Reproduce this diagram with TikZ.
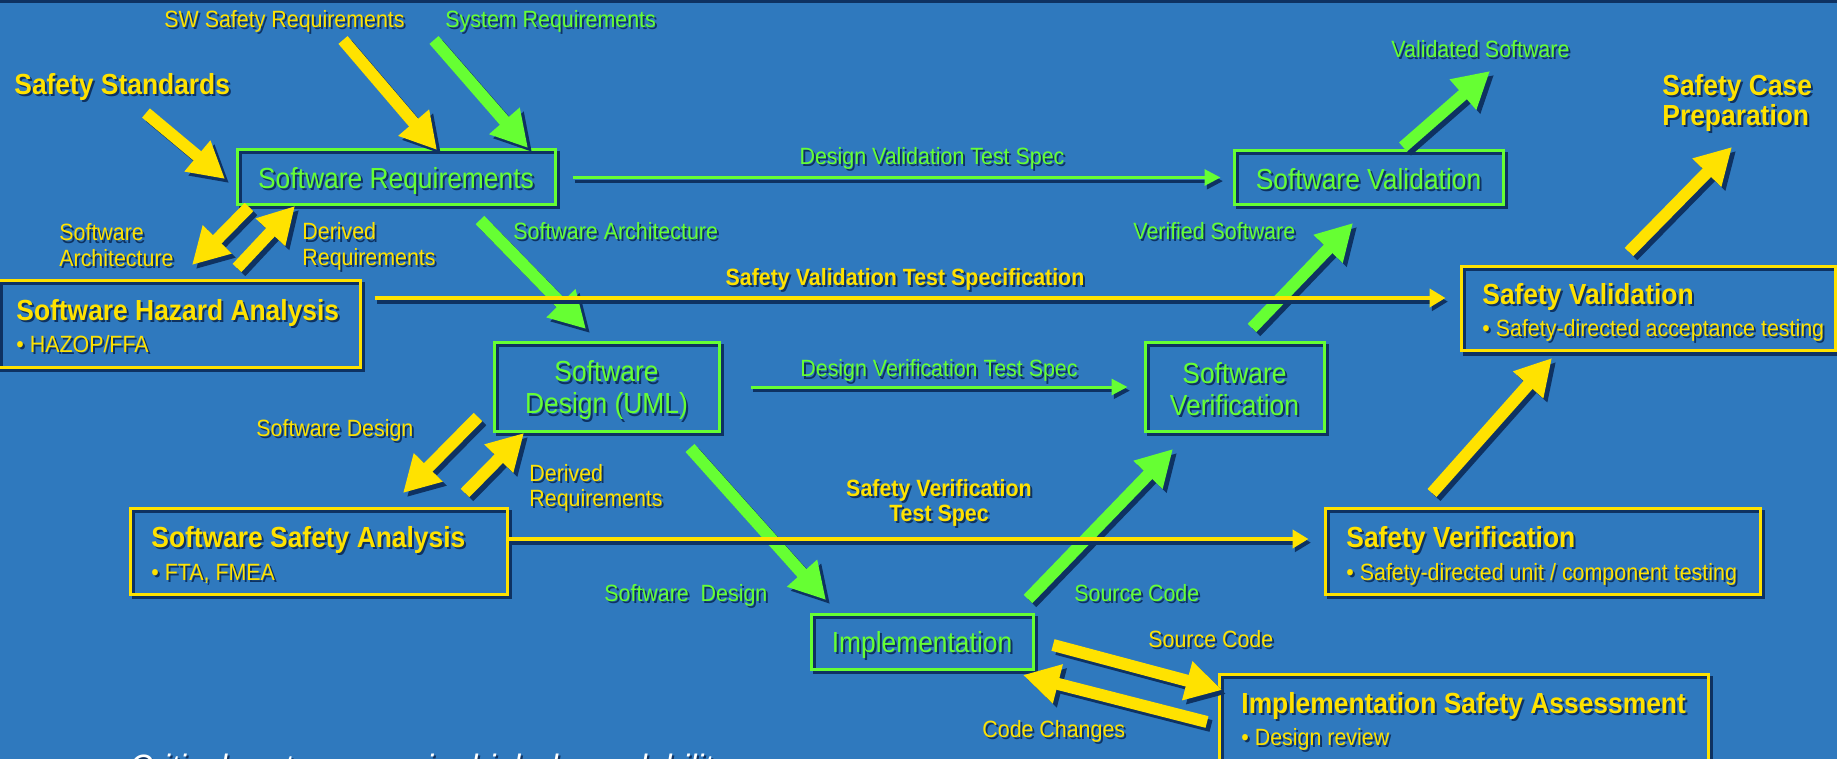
\documentclass[tikz,border=0pt]{standalone}
\usepackage{fontspec}
\usepackage{graphicx}
\setmainfont{Liberation Sans}
\usetikzlibrary{arrows.meta}

\definecolor{bg}{RGB}{47,121,190}
\definecolor{yel}{RGB}{255,226,0}
\definecolor{grn}{RGB}{102,255,51}
\definecolor{shad}{RGB}{14,50,98}

% slightly tall lettering with a dark drop shadow
\newcommand\shd[1]{\scalebox{1}[1.1]{\rlap{\kern1pt\raisebox{-1pt}{\textcolor{shad}{#1}}}#1}}
\newcommand\fsmall{\fontsize{10.7pt}{12.7pt}\selectfont}
\newcommand\fbig{\fontsize{13.2pt}{16pt}\selectfont}

% wide block arrow with its shadow
\newcommand\fatarrow[3]{%
  \begin{scope}[transform canvas={shift={(2pt,-2pt)}}]\draw[fat,shad] (#2) -- (#3);\end{scope}
  \draw[fat,#1] (#2) -- (#3);}
% thin arrow with its shadow
\newcommand\thinarrow[3]{%
  \begin{scope}[transform canvas={shift={(1.2pt,-1.8pt)}}]\draw[#1,shad] #2 -- #3;\end{scope}
  \draw[#1] #2 -- #3;}

\tikzset{
  fat/.style={line width=6pt, -{Triangle[length=18pt,width=19pt]}},
  gthin/.style={line width=1.5pt, grn, -{Triangle[length=8pt,width=8pt]}},
  ythin/.style={line width=2.2pt, yel, -{Triangle[length=8pt,width=9pt]}},
  one/.style={text height=9.4pt, text depth=0pt},
  onebig/.style={text height=11.2pt, text depth=0pt},
  lab/.style={inner sep=0pt, font=\fsmall, anchor=west},
  ylab/.style={lab, text=yel},
  glab/.style={lab, text=grn},
  head/.style={inner sep=0pt, anchor=west, font=\fbig\bfseries, text=yel, onebig},
  bullet/.style={inner sep=0pt, anchor=west, font=\fsmall, text=yel, one},
  boxframe/.style={line width=1.5pt, inner sep=0pt,
    preaction={draw=shad, transform canvas={shift={(1.5pt,-1.5pt)}}}},
  gbox/.style={boxframe, draw=grn, text=grn, font=\fbig},
  gtext/.style={inner sep=0pt, text=grn, font=\fbig, align=center},
  ybox/.style={boxframe, draw=yel},
}

\begin{document}
\begin{tikzpicture}[x=0.5pt,y=-0.5pt]
\useasboundingbox (0,0) rectangle (1837,759);
\fill[bg] (0,0) rectangle (1837,759);
\clip (0,0) rectangle (1837,759);
\fill[shad] (0,0) rectangle (1837,3);

% ---- process boxes
\node[gbox, onebig, minimum width=159pt, minimum height=27.5pt] (sr) at (396,177.5) {\shd{Software Requirements}};
\node[gbox, onebig, minimum width=134.5pt, minimum height=27pt] (sval) at (1368.5,178) {\shd{Software Validation}};
\node[gbox, minimum width=112.5pt, minimum height=44pt] (uml) at (606.5,387) {};
\node[gtext, yshift=-2.3pt] (umlt) at (uml.center) {\shd{Software}\\\shd{Design (UML)}};
\node[gbox, minimum width=89.5pt, minimum height=44pt] (sver) at (1234.5,387) {};
\node[gtext, yshift=-1.4pt] (svert) at (sver.center) {\shd{Software}\\\shd{Verification}};
\node[gbox, onebig, minimum width=111pt, minimum height=27.5pt] (impl) at (922,641.5) {\shd{Implementation}};

% ---- safety boxes
\node[ybox, minimum width=181pt, minimum height=43pt] (haz) at (179,324) {};
\node[head] (hazt) at (16,309) {\shd{Software Hazard Analysis}};
\node[bullet] (hazb) at (16,343) {\shd{• HAZOP/FFA}};

\node[ybox, minimum width=188.5pt, minimum height=43pt] (ssa) at (318.5,551) {};
\node[head] (ssat) at (151,536) {\shd{Software Safety Analysis}};
\node[bullet] (ssab) at (151,571) {\shd{• FTA, FMEA}};

\node[ybox, minimum width=187pt, minimum height=42pt] (safval) at (1648,309) {};
\node[head] (safvalt) at (1482,293) {\shd{Safety Validation}};
\node[bullet] (safvalb) at (1482,327) {\shd{• Safety-directed acceptance testing}};

\node[ybox, minimum width=217.5pt, minimum height=43pt] (safver) at (1542.5,551) {};
\node[head] (safvert) at (1346,536) {\shd{Safety Verification}};
\node[bullet] (safverb) at (1346,571) {\shd{• Safety-directed unit / component testing}};

\node[ybox, minimum width=244.5pt, minimum height=58pt] (isa) at (1463.5,732) {};
\node[head] (isat) at (1241,702) {\shd{Implementation Safety Assessment}};
\node[bullet] (isab) at (1241,736) {\shd{• Design review}};

% ---- free labels
\node[ylab, one] (swsr) at (164,18) {\shd{SW Safety Requirements}};
\node[glab, one] (sysr) at (445,18) {\shd{System Requirements}};
\node[head] (stds) at (14,83) {\shd{Safety Standards}};
\node[inner sep=0pt, anchor=west, text=yel, align=left, yshift=-2.9pt,
      font=\fontsize{13.2pt}{15pt}\selectfont\bfseries] (scp) at (1662,98) {\shd{Safety Case}\\\shd{Preparation}};
\node[glab, one] (valsw) at (1391,48) {\shd{Validated Software}};
\node[glab, one, anchor=center] (dvts) at (932,155) {\shd{Design Validation Test Spec}};
\node[ylab, align=left, yshift=-1.9pt] (srarch) at (59,242.5) {\shd{Software}\\\shd{Architecture}};
\node[ylab, align=left, yshift=-2.6pt] (srder) at (302,242.5) {\shd{Derived}\\\shd{Requirements}};
\node[glab, one] (swarch) at (513,230) {\shd{Software Architecture}};
\node[glab, one] (versw) at (1133,230) {\shd{Verified Software}};
\node[ylab, one, anchor=center, font=\fsmall\bfseries] (svts) at (905,276) {\shd{Safety Validation Test Specification}};
\node[glab, one, anchor=center] (dverts) at (939,367.5) {\shd{Design Verification Test Spec}};
\node[ylab, one] (swdes) at (256,427) {\shd{Software Design}};
\node[ylab, align=left, yshift=-1.9pt] (umlder) at (529,485) {\shd{Derived}\\\shd{Requirements}};
\node[ylab, anchor=center, align=center, yshift=-1.9pt,
      font=\fontsize{10.7pt}{12.5pt}\selectfont\bfseries] (sverts) at (939,500) {\shd{Safety Verification}\\\shd{Test Spec}};
\node[glab, one] (swdes2) at (604,592) {\shd{Software\ \ Design}};
\node[glab, one] (src1) at (1074,592) {\shd{Source Code}};
\node[ylab, one] (src2) at (1148,638) {\shd{Source Code}};
\node[ylab, one] (codech) at (982,728) {\shd{Code Changes}};
\node[anchor=base west, inner sep=0pt, text=white, font=\fontsize{16pt}{19pt}\selectfont\itshape] (crit) at (129,779) {\shd{Critical systems require high dependability}};

% ---- block arrow end points
\coordinate (a1s) at (146,113);  \coordinate (a1e) at (225,179);
\coordinate (a2s) at (343,40);   \coordinate (a2e) at (437,150);
\coordinate (a3s) at (434,40);   \coordinate (a3e) at (528,148);
\coordinate (a4s) at (249,207);  \coordinate (a4e) at (192,265);
\coordinate (a5s) at (237,268);  \coordinate (a5e) at (295,206);
\coordinate (a6s) at (480,220);  \coordinate (a6e) at (586,329);
\coordinate (a7s) at (478,417);  \coordinate (a7e) at (403,493);
\coordinate (a8s) at (465,493);  \coordinate (a8e) at (524,433);
\coordinate (a9s) at (690,448);  \coordinate (a9e) at (826,600);
\coordinate (a10s) at (1028,599); \coordinate (a10e) at (1173,449);
\coordinate (a11s) at (1252,328); \coordinate (a11e) at (1353,223);
\coordinate (a12s) at (1403,147); \coordinate (a12e) at (1490,71);
\coordinate (a13s) at (1629,252); \coordinate (a13e) at (1732,147);
\coordinate (a14s) at (1432,493); \coordinate (a14e) at (1552,358);
\coordinate (a15s) at (1053,645); \coordinate (a15e) at (1222,690);
\coordinate (a16s) at (1207,722); \coordinate (a16e) at (1023,675);

\fatarrow{yel}{a1s}{a1e}
\fatarrow{yel}{a2s}{a2e}
\fatarrow{grn}{a3s}{a3e}
\fatarrow{yel}{a4s}{a4e}
\fatarrow{yel}{a5s}{a5e}
\fatarrow{grn}{a6s}{a6e}
\fatarrow{yel}{a7s}{a7e}
\fatarrow{yel}{a8s}{a8e}
\fatarrow{grn}{a9s}{a9e}
\fatarrow{grn}{a10s}{a10e}
\fatarrow{grn}{a11s}{a11e}
\fatarrow{grn}{a12s}{a12e}
\fatarrow{yel}{a13s}{a13e}
\fatarrow{yel}{a14s}{a14e}
\fatarrow{yel}{a15s}{a15e}
\fatarrow{yel}{a16s}{a16e}

% ---- test specification arrows
\thinarrow{gthin, shorten <=8pt, shorten >=6pt}{(sr.east)}{(sr.east -| sval.west)}
\thinarrow{gthin, shorten <=15pt, shorten >=8pt}{(uml.east)}{(uml.east -| sver.west)}
\thinarrow{ythin, shorten <=6.5pt, shorten >=7pt}{([yshift=13pt]haz.east)}{([yshift=13pt]haz.east -| safval.west)}
\thinarrow{ythin, shorten >=7.5pt}{([yshift=6pt]ssa.east)}{([yshift=6pt]ssa.east -| safver.west)}
\end{tikzpicture}
\end{document}
